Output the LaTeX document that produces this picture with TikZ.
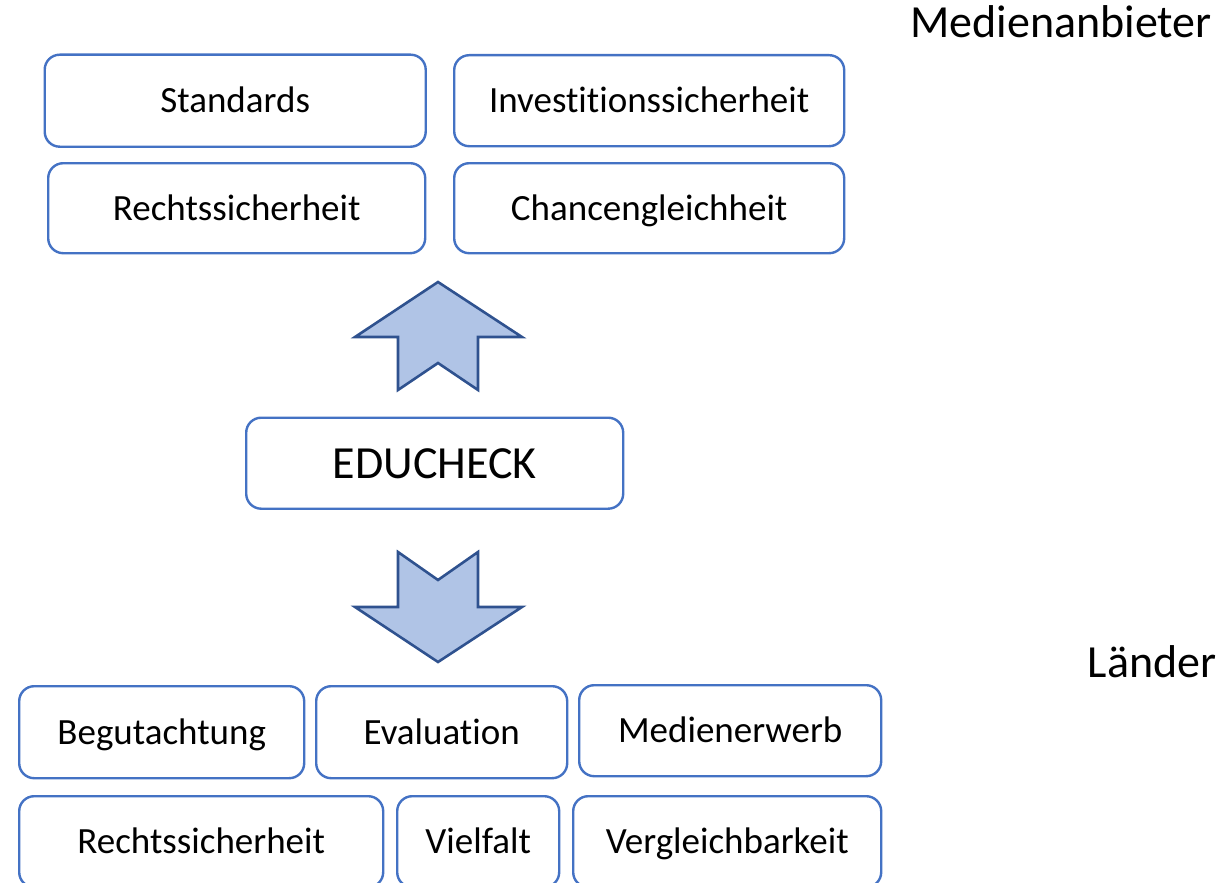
\documentclass[tikz,border=0pt]{standalone}
\usepackage{fontspec}
\setmainfont{Carlito}[RawFeature={-liga;-clig}]
\definecolor{boxblue}{HTML}{4472C4}
\definecolor{arrowfill}{HTML}{B0C4E6}
\definecolor{arrowline}{HTML}{2F528F}
\begin{document}
\begin{tikzpicture}[x=1pt,y=-1pt,
  tbox/.style={draw=boxblue, line width=2.4pt, rounded corners=15pt, fill=white,
    rectangle, anchor=north west, inner sep=0pt, align=center,
    font=\fontsize{37}{40}\selectfont, text height=26pt, text depth=2pt},
  bigbox/.style={tbox, font=\fontsize{46}{50}\selectfont, text height=33pt, text depth=2pt},
  label/.style={inner sep=0pt, anchor=base, font=\fontsize{46}{50}\selectfont},
  blockarrow/.style={fill=arrowfill, draw=arrowline, line width=2.6pt, line join=miter}]
\useasboundingbox (0,0) rectangle (1229,883);
% top boxes
\node[tbox, minimum width=381pt, minimum height=92pt] (std) at (43.5,53.5) {Standards};
\node[tbox, minimum width=390pt, minimum height=91pt] (inv) at (453,54) {Investitionssicherheit};
\node[tbox, minimum width=377pt, minimum height=90pt] (rs1) at (47,162) {Rechtssicherheit};
\node[tbox, minimum width=390pt, minimum height=90pt] (cg) at (453,162) {Chancengleichheit};
% center box
\node[bigbox, minimum width=377pt, minimum height=91pt] (edu) at (245,416.5) {EDUCHECK};
% bottom boxes
\node[tbox, minimum width=285pt, minimum height=92pt] (beg) at (18,685) {Begutachtung};
\node[tbox, minimum width=251pt, minimum height=92pt] (eva) at (315,685) {Evaluation};
\node[tbox, minimum width=302pt, minimum height=91pt] (med) at (578,684) {Medienerwerb};
\node[tbox, minimum width=364pt, minimum height=91pt] (rs2) at (18,795) {Rechtssicherheit};
\node[tbox, minimum width=162pt, minimum height=91pt] (vie) at (396,795) {Vielfalt};
\node[tbox, minimum width=308pt, minimum height=91pt] (ver) at (572,795) {Vergleichbarkeit};
% side labels
\node[label] (anb) at (1061,38) {Medienanbieter};
\node[label] (lae) at (1152,677) {Länder};
% block arrows
\draw[blockarrow] (438,282) -- (522,337) -- (478,337) -- (478,390) -- (438,363)
  -- (398,390) -- (398,337) -- (355,337) -- cycle;
\draw[blockarrow] (398,552) -- (438,580) -- (478,552) -- (478,607) -- (522,607)
  -- (438,662) -- (355,607) -- (398,607) -- cycle;
\end{tikzpicture}
\end{document}
